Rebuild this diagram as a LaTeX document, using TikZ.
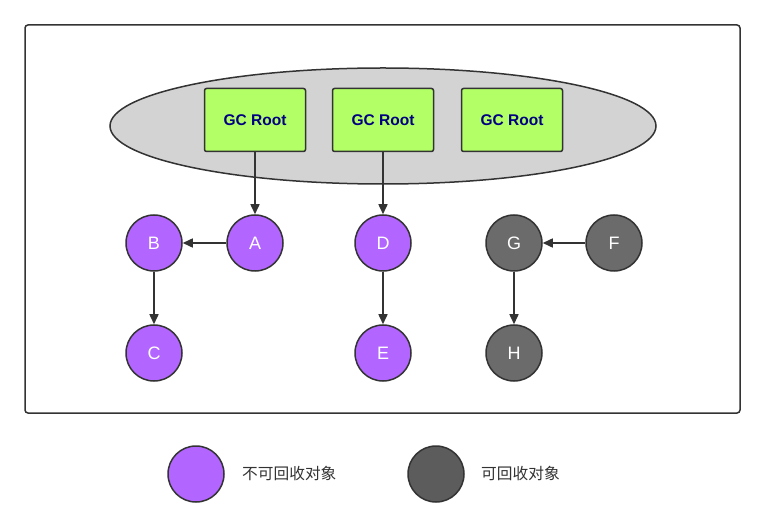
\documentclass[tikz,border=0pt]{standalone}
\usepackage{fontspec}
\setmainfont{Liberation Sans}
\newfontfamily\cjk{Noto Sans CJK SC}
\usetikzlibrary{arrows.meta,shapes.geometric}
\definecolor{strk}{HTML}{333333}
\definecolor{purp}{HTML}{B266FF}
\definecolor{gnode}{HTML}{6B6B6B}
\definecolor{gleg}{HTML}{5C5C5C}
\definecolor{ellfill}{HTML}{D3D3D3}
\definecolor{rootgreen}{HTML}{B3FF66}
\definecolor{navy}{HTML}{000080}
\begin{document}
\begin{tikzpicture}[x=1pt,y=-1pt,
  rootbox/.style={draw=strk,line width=1.5pt,fill=rootgreen,rounded corners=2pt,minimum width=101pt,minimum height=63pt,inner sep=0pt,text=navy,font=\fontsize{15.5}{17}\selectfont\bfseries},
  live/.style={circle,draw=strk,line width=1.5pt,fill=purp,minimum size=56pt,inner sep=0pt,text=white,font=\fontsize{18}{20}\selectfont},
  dead/.style={circle,draw=strk,line width=1.5pt,fill=gnode,minimum size=56pt,inner sep=0pt,text=white,font=\fontsize{18}{20}\selectfont},
  conn/.style={draw=strk,line width=1.5pt,-{Triangle[length=10pt,width=9pt]}},
  legtext/.style={anchor=west,inner sep=0pt,text=strk,font=\cjk\fontsize{15.7}{17}\selectfont}]
\useasboundingbox (0,0) rectangle (765,526);
\fill[white] (0,0) rectangle (765,526);
\draw[strk,line width=1.5pt,rounded corners=3pt] (25,25) rectangle (740,413);
\node[ellipse,draw=strk,line width=1.5pt,fill=ellfill,minimum width=546pt,minimum height=116pt,inner sep=0pt] (ell) at (383,126) {};
\node[rootbox] (r1) at (255,120) {GC Root};
\node[rootbox] (r2) at (383,120) {GC Root};
\node[rootbox] (r3) at (512,120) {GC Root};
\node[live] (A) at (255,243) {A};
\node[live] (B) at (154,243) {B};
\node[live] (C) at (154,353) {C};
\node[live] (D) at (383,243) {D};
\node[live] (E) at (383,353) {E};
\node[dead] (F) at (614,243) {F};
\node[dead] (G) at (514,243) {G};
\node[dead] (H) at (514,353) {H};
\draw[conn] (r1) -- (A);
\draw[conn] (r2) -- (D);
\draw[conn] (A) -- (B);
\draw[conn] (B) -- (C);
\draw[conn] (D) -- (E);
\draw[conn] (F) -- (G);
\draw[conn] (G) -- (H);
\node[circle,draw=strk,line width=1.5pt,fill=purp,minimum size=56pt,inner sep=0pt] (L1) at (196,474) {};
\node[legtext] (T1) at (242,474) {不可回收对象};
\node[circle,draw=strk,line width=1.5pt,fill=gleg,minimum size=56pt,inner sep=0pt] (L2) at (436,474) {};
\node[legtext] (T2) at (481,474) {可回收对象};
\end{tikzpicture}
\end{document}
